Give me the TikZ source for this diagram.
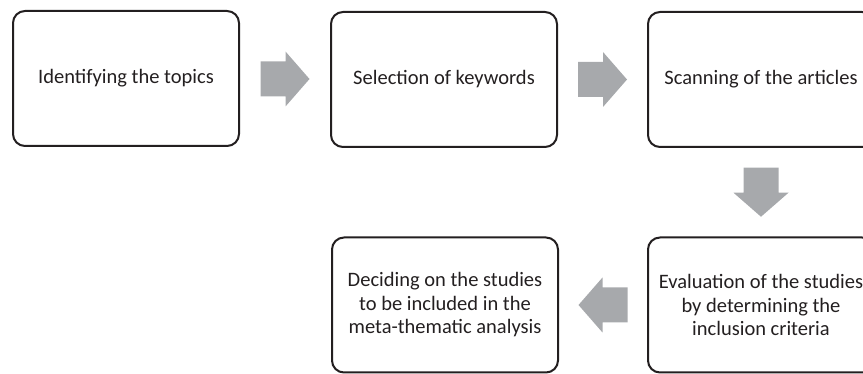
\documentclass[tikz,border=0pt]{standalone}
\usepackage{fontspec}
\setmainfont{Carlito}
\usetikzlibrary{calc}
\definecolor{inkc}{HTML}{231F20}
\definecolor{arrowc}{HTML}{A7A9AC}
\begin{document}
\begin{tikzpicture}[x=1pt,y=-1pt,
  stepbox/.style={draw=inkc, line width=2pt, rounded corners=12pt, rectangle,
    minimum width=226pt, minimum height=135pt, align=center, text=inkc,
    inner sep=0pt, font=\fontsize{20.5}{23.5}\selectfont},
  blockarrow/.style={fill=arrowc, draw=none}]
\useasboundingbox (0,0) rectangle (863,374);
\node[stepbox] (b1) at (126,78.5) {Identifying the topics};
\node[stepbox] (b2) at (444,79.5) {Selection of keywords};
\node[stepbox] (b3) at (761,79.5) {Scanning of the articles};
\node[stepbox] (b5) at (761,305) {Evaluation of the studies\\by determining the\\inclusion criteria};
\node[stepbox] (b4) at (445,305) {Deciding on the studies\\to be included in the\\meta-thematic analysis};
% right arrows
\fill[blockarrow] ($(b1.east)!0.5!(b2.west)$) ++(-24.5,-17.5) -- ++(25,0) -- ++(0,-10) -- ++(24,27.5) -- ++(-24,27.5) -- ++(0,-10) -- ++(-25,0) -- cycle;
\fill[blockarrow] ($(b2.east)!0.5!(b3.west)$) ++(-24.5,-17.5) -- ++(25,0) -- ++(0,-10) -- ++(24,27.5) -- ++(-24,27.5) -- ++(0,-10) -- ++(-25,0) -- cycle;
% down arrow
\fill[blockarrow] ($(b3.south)!0.5!(b5.north)$) ++(-17.5,-24.5) -- ++(35,0) -- ++(0,25) -- ++(10,0) -- ++(-27.5,24) -- ++(-27.5,-24) -- ++(10,0) -- cycle;
% left arrow
\fill[blockarrow] ($(b5.west)!0.5!(b4.east)$) ++(24.5,-17.5) -- ++(-25,0) -- ++(0,-10) -- ++(-24,27.5) -- ++(24,27.5) -- ++(0,-10) -- ++(25,0) -- cycle;
\end{tikzpicture}
\end{document}
